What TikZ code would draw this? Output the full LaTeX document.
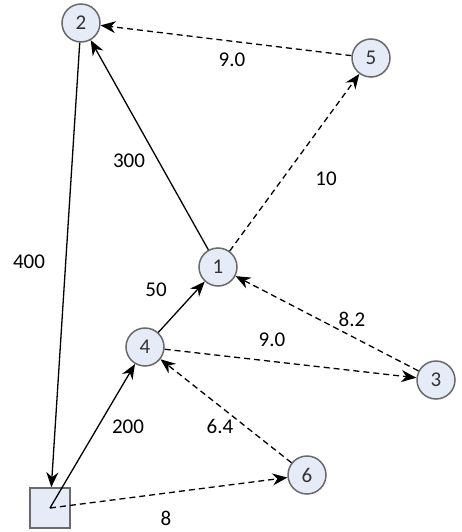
\documentclass[tikz,border=0pt]{standalone}
\usepackage{fontspec}
\setmainfont{Carlito}
\usetikzlibrary{arrows.meta}
\definecolor{nodefill}{HTML}{E6ECF7}
\definecolor{nodeline}{HTML}{6A6A6A}

\begin{document}
\begin{tikzpicture}[x=1pt, y=-1pt,
        vert/.style={circle, draw=nodeline, fill=nodefill, line width=1.5pt,
            minimum size=38pt, inner sep=0pt, text=black!80,
            font=\fontsize{21}{23}\selectfont},
        depot/.style={rectangle, draw=nodeline, fill=nodefill, line width=1.5pt,
            minimum size=40pt, inner sep=0pt},
        lbl/.style={font=\fontsize{21}{24}\selectfont},
        arc/.style={-{Stealth[length=15pt, width=12pt]}, line width=1.3pt},
        darc/.style={arc, dash pattern=on 6pt off 4pt}]
        \useasboundingbox (0,0) rectangle (461,532);

        % nodes
        \node[vert] (n2) at (81,23) {2};
        \node[vert] (n5) at (371,58) {5};
        \node[vert] (n1) at (218,267) {1};
        \node[vert] (n4) at (145,347) {4};
        \node[vert] (n3) at (436,380) {3};
        \node[vert] (n6) at (307,475) {6};
        \node[depot] (s) at (50,508) {};

        % arcs
        \draw[darc] (n5) -- (n2);
        \draw[arc] (n1) -- (n2);
        \draw[darc] (n1) -- (n5);
        \draw[arc] (n2) -- (s);
        \draw[arc] (n4) -- (n1);
        \draw[darc] (n3) -- (n1);
        \draw[darc] (n4) -- (n3);
        \draw[arc] (s.center) -- (n4);
        \draw[darc] (n6) -- (n4);
        \draw[darc] (s.center) -- (n6);

        % weights
        \node[lbl] (w52) at (232,60) {9.0};
        \node[lbl] (w12) at (129,161) {300};
        \node[lbl] (w15) at (326,179) {10};
        \node[lbl] (w2s) at (29,262) {400};
        \node[lbl] (w41) at (156,290) {50};
        \node[lbl] (w31) at (352,319) {8.2};
        \node[lbl] (w43) at (272,340) {9.0};
        \node[lbl] (ws4) at (128,427) {200};
        \node[lbl] (w64) at (220,426) {6.4};
        \node[lbl] (ws6) at (166,518) {8};
    \end{tikzpicture}
\end{document}
